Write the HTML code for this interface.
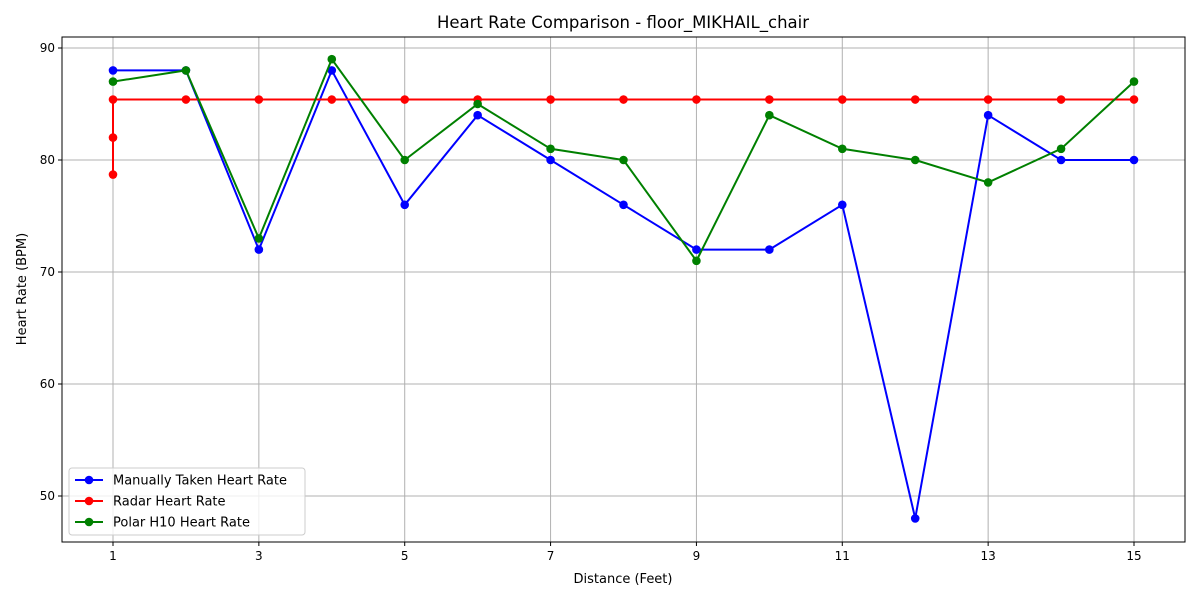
<!DOCTYPE html>
<html><head><meta charset="utf-8"><style>
body{margin:0;background:#fff;font-family:"Liberation Sans","DejaVu Sans",sans-serif;}
</style></head><body>
<svg id="c" width="1200" height="600" xmlns="http://www.w3.org/2000/svg" font-family="DejaVu Sans, Liberation Sans, sans-serif"></svg>
<script>
const distances=[1,2,3,4,5,6,7,8,9,10,11,12,13,14,15];
const manualHR=[88,88,72,88,76,84,80,76,72,72,76,48,84,80,80];
const radarX=[1,1,1,2,3,4,5,6,7,8,9,10,11,12,13,14,15];
const radarHR=[78.7,82,85.4,85.4,85.4,85.4,85.4,85.4,85.4,85.4,85.4,85.4,85.4,85.4,85.4,85.4,85.4];
const polarHR=[87,88,73,89,80,85,81,80,71,84,81,80,78,81,87];
const xTicks=[1,3,5,7,9,11,13,15];
const yTicks=[50,60,70,80,90];
const L=62,R=1185,T=37,B=542;
const xs=v=>113+(v-1)*(1134-113)/14;
const ys=v=>48+(90-v)*11.2;
const svg=document.getElementById('c');
const NS='http://www.w3.org/2000/svg';
function mk(t,a,p){const e=document.createElementNS(NS,t);for(const k in a)e.setAttribute(k,a[k]);(p||svg).appendChild(e);return e;}
const grid=mk('g',{});


xTicks.forEach(v=>{mk('line',{x1:xs(v),x2:xs(v),y1:T,y2:B,stroke:'#b0b0b0','stroke-width':1},grid);
 mk('line',{x1:xs(v),x2:xs(v),y1:B,y2:B+4,stroke:'#000'},grid);
 const t=mk('text',{x:xs(v),y:B+18,'text-anchor':'middle','font-size':12},grid);t.textContent=v;
 
 });
yTicks.forEach(v=>{mk('line',{x1:L,x2:R,y1:ys(v),y2:ys(v),stroke:'#b0b0b0','stroke-width':1},grid);
 mk('line',{x1:L-4,x2:L,y1:ys(v),y2:ys(v),stroke:'#000'},grid);
 const t=mk('text',{x:L-7,y:ys(v)+4,'text-anchor':'end','font-size':12},grid);t.textContent=v;
 
 });
function series(xv,yv,col,name){const g=mk('g',{});
 
 
 mk('polyline',{points:xv.map((x,i)=>xs(x)+','+ys(yv[i])).join(' '),fill:'none',stroke:col,'stroke-width':2},g);
 xv.forEach((x,i)=>{const c=mk('circle',{cx:xs(x),cy:ys(yv[i]),r:4.3,fill:col},g);
 
 });}
series(distances,manualHR,'#0000ff','manual-series');
series(radarX,radarHR,'#ff0000','radar-series');
series(distances,polarHR,'#008000','polar-series');
const fr=mk('rect',{x:L,y:T,width:R-L,height:B-T,fill:'none',stroke:'#000','stroke-width':1});


let t=mk('text',{x:623,y:28,'text-anchor':'middle','font-size':16.5});t.textContent='Heart Rate Comparison - floor_MIKHAIL_chair';


t=mk('text',{x:623,y:583,'text-anchor':'middle','font-size':13});t.textContent='Distance (Feet)';


t=mk('text',{x:26,y:289,'text-anchor':'middle','font-size':13,transform:'rotate(-90 26 289)'});t.textContent='Heart Rate (BPM)';


const lg=mk('g',{});


mk('rect',{x:69,y:468,width:236,height:67,rx:3,fill:'#fff','fill-opacity':0.8,stroke:'#ccc'},lg);
[['Manually Taken Heart Rate','#0000ff'],['Radar Heart Rate','#ff0000'],['Polar H10 Heart Rate','#008000']].forEach((e,i)=>{
 const y=480+i*21;const g=mk('g',{},lg);
 
 
 mk('line',{x1:75,x2:103,y1:y,y2:y,stroke:e[1],'stroke-width':2},g);
 mk('circle',{cx:89,cy:y,r:4.3,fill:e[1]},g);
 const tt=mk('text',{x:113,y:y+4.5,'font-size':13},g);tt.textContent=e[0];});
</script>
</body></html>
